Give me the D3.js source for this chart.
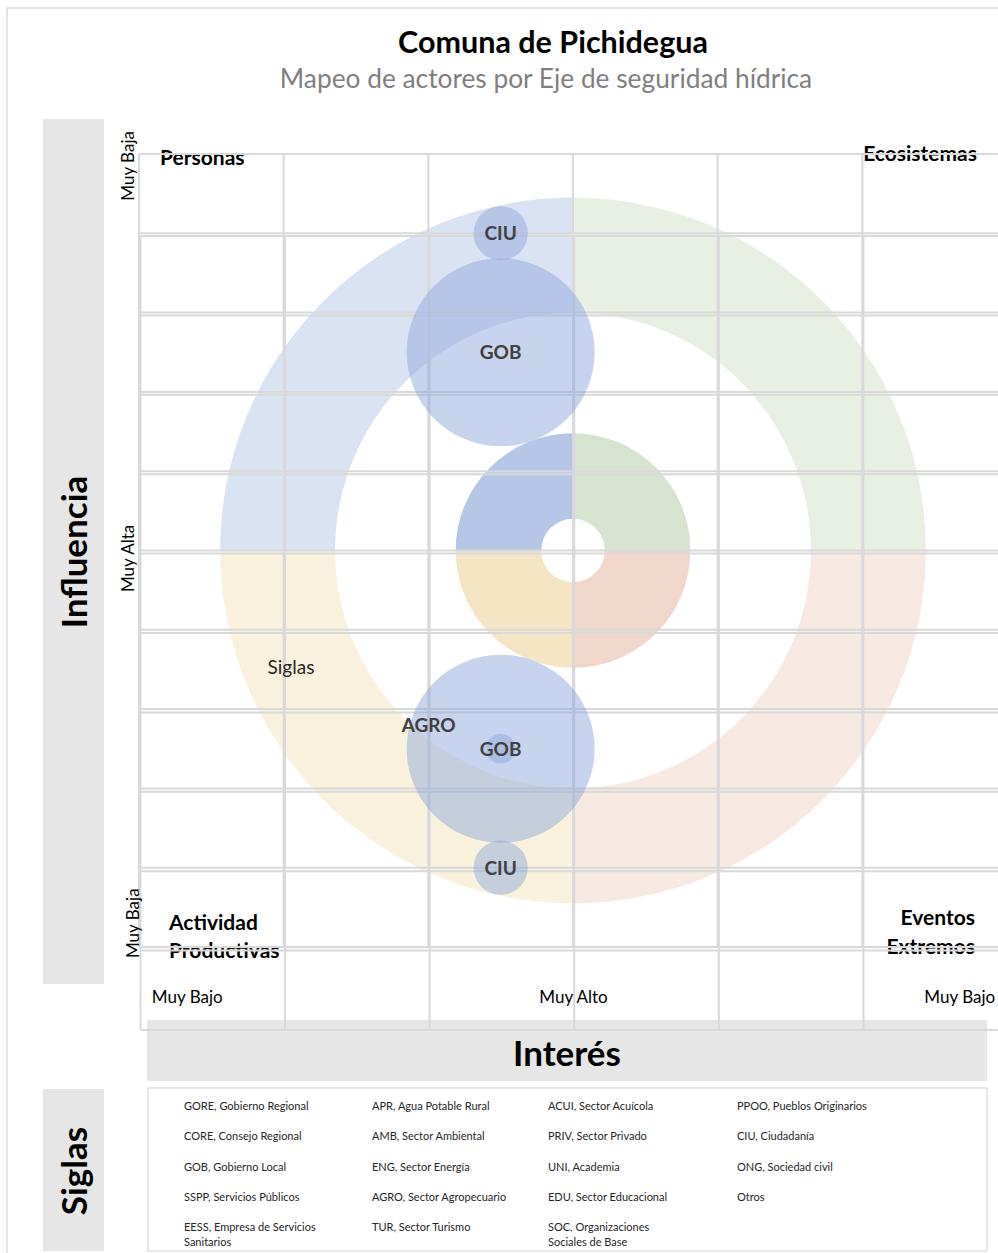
<!DOCTYPE html>
<meta charset="utf-8">
<style>
    body { margin: 0; background: #fff; }
    text { font-family: Lato, "Open Sans", sans-serif; }
    .grid line { stroke: #d9d9d9; stroke-width: 2; }
    .bar { fill: #e6e6e6; }
    .big { font-weight: bold; font-size: 35px; fill: #000; }
    .quad { font-weight: bold; font-size: 21px; fill: #000; }
    .sigla { font-weight: bold; font-size: 19px; fill: #404040; text-anchor: middle; }
    .legend text { font-size: 11px; fill: #262626; }
</style>
<body>

<script src="https://d3js.org/d3.v7.min.js"></script>
<script>
    // chart values
    var title = "Comuna de Pichidegua";
    var subtitle = "Mapeo de actores por Eje de seguridad hídrica";

    var quadrants = ["Ecosistemas", "Eventos Extremos", "Actividad Productivas", "Personas"];
    var outerColors = ["#e8f0e3", "#f8eae2", "#fbf2de", "#dae3f3"];
    var innerColors = ["#d6e3cf", "#f0d7c9", "#f5e5c5", "#b4c7e7"];

    // rings in grid units (inner, outer)
    var rings = [[3.0, 4.45], [0.4, 1.48]];
    var ringCenter = [3, 5];

    var xTickLabels = ["Muy Bajo", "Muy Alto", "Muy Bajo"];
    var xTickValues = [0.33, 3.0, 5.67];
    var yTickLabels = ["Muy Baja", "Muy Alta", "Muy Baja"];
    var yTickValues = [0.15, 5.1, 9.7];

    var actorSigla = ["CIU", "GOB", "GOB", "AGRO", "CIU"];
    var actorInteres = [2.5, 2.5, 2.5, 2.5, 2.5];
    var actorInfluencia = [1.0, 2.5, 7.5, 7.5, 9.0];
    var actorSize = [1, 12, 12, 0.3, 1];

    var legendCols = [
        ["GORE, Gobierno Regional", "CORE, Consejo Regional", "GOB, Gobierno Local", "SSPP, Servicios Públicos", "EESS, Empresa de Servicios\nSanitarios"],
        ["APR, Agua Potable Rural", "AMB, Sector Ambiental", "ENG, Sector Energía", "AGRO, Sector Agropecuario", "TUR, Sector Turismo"],
        ["ACUI, Sector Acuícola", "PRIV, Sector Privado", "UNI, Academia", "EDU, Sector Educacional", "SOC, Organizaciones\nSociales de Base"],
        ["PPOO, Pueblos Originarios", "CIU, Ciudadanía", "ONG, Sociedad civil", "Otros"]
    ];

    var W = 998, H = 1253;
    var svg = d3.select("body").append("svg")
        .attr("width", W)
        .attr("height", H);

    svg.append("rect")
        .attr("x", 7).attr("y", 8)
        .attr("width", W).attr("height", H)
        .attr("fill", "none").attr("stroke", "#c8c8c8");

    svg.append("text")
        .attr("x", 553).attr("y", 53)
        .attr("text-anchor", "middle")
        .style("font-weight", "bold").style("font-size", "30.5px")
        .text(title);
    svg.append("text")
        .attr("x", 546).attr("y", 88)
        .attr("text-anchor", "middle")
        .style("font-size", "26.3px").style("fill", "#7f7f7f")
        .text(subtitle);

    // gray side/bottom bands
    svg.append("rect").attr("class", "bar").attr("x", 43).attr("y", 119).attr("width", 61).attr("height", 865);
    svg.append("rect").attr("class", "bar").attr("x", 43).attr("y", 1089).attr("width", 61).attr("height", 162);
    svg.append("rect").attr("class", "bar").attr("x", 147).attr("y", 1020).attr("width", 840).attr("height", 61);

    svg.append("text").attr("class", "big")
        .attr("transform", "translate(87,552) rotate(-90)")
        .attr("text-anchor", "middle").text("Influencia");
    svg.append("text").attr("class", "big")
        .attr("transform", "translate(87,1171) rotate(-90)")
        .attr("text-anchor", "middle").text("Siglas");
    svg.append("text").attr("class", "big")
        .attr("x", 567).attr("y", 1066)
        .attr("text-anchor", "middle").text("Interés");

    // scales (grid units)
    var x = d3.scaleLinear().domain([0, 6]).range([139, 1007]);
    var y = d3.scaleLinear().domain([0, 10]).range([154, 947]);
    var x2 = d3.scaleLinear().domain([0, 6]).range([140.5, 1008]);
    var y2 = d3.scaleLinear().domain([0, 10]).range([236, 1030]);
    var r = d3.scaleSqrt().domain([0, 12]).range([0, 94]);
    var unit = y(1) - y(0);

    // rings
    var arc = d3.arc();
    var plot = svg.append("g")
        .attr("transform", "translate(" + x(ringCenter[0]) + "," + y(ringCenter[1]) + ")");
    rings.forEach(function(ring, ri) {
        var cols = ri === 0 ? outerColors : innerColors;
        quadrants.forEach(function(q, i) {
            plot.append("path")
                .attr("d", arc({
                    innerRadius: ring[0] * unit,
                    outerRadius: ring[1] * unit,
                    startAngle: i * Math.PI / 2,
                    endAngle: (i + 1) * Math.PI / 2
                }))
                .attr("fill", cols[i]);
        });
    });

    // quadrant names
    svg.append("text").attr("class", "quad").attr("x", 160).attr("y", 165).text("Personas");
    svg.append("text").attr("class", "quad").attr("x", 977).attr("y", 161).attr("text-anchor", "end").text("Ecosistemas");
    svg.append("text").attr("class", "quad").attr("x", 169).attr("y", 930).text("Actividad");
    svg.append("text").attr("class", "quad").attr("x", 169).attr("y", 958).text("Productivas");
    svg.append("text").attr("class", "quad").attr("x", 975).attr("y", 925).attr("text-anchor", "end").text("Eventos");
    svg.append("text").attr("class", "quad").attr("x", 975).attr("y", 954).attr("text-anchor", "end").text("Extremos");

    // two overlapping grids
    function drawGrid(xs, ys) {
        var g = svg.append("g").attr("class", "grid");
        g.selectAll(".v").data(d3.range(0, 7)).enter().append("line")
            .attr("x1", d => xs(d)).attr("x2", d => xs(d))
            .attr("y1", ys(0)).attr("y2", ys(10));
        g.selectAll(".h").data(d3.range(0, 11)).enter().append("line")
            .attr("x1", xs(0)).attr("x2", xs(6))
            .attr("y1", d => ys(d)).attr("y2", d => ys(d));
    }
    drawGrid(x, y);
    drawGrid(x2, y2);

    // bubbles
    var actors = actorSigla.map((s, i) => ({sigla: s, x: actorInteres[i], y: actorInfluencia[i], size: actorSize[i]}));
    svg.append("g").selectAll("circle").data(actors).enter().append("circle")
        .attr("cx", d => x(d.x))
        .attr("cy", d => y(d.y))
        .attr("r", d => r(d.size))
        .attr("fill", "#8faadc")
        .attr("fill-opacity", 0.5);

    var labelShift = {3: [-72, -24]};
    svg.append("g").selectAll("text").data(actors).enter().append("text")
        .attr("class", "sigla")
        .attr("x", (d, i) => x(d.x) + (labelShift[i] ? labelShift[i][0] : 0))
        .attr("y", (d, i) => y(d.y) + 7 + (labelShift[i] ? labelShift[i][1] : 0))
        .text(d => d.sigla);

    svg.append("text")
        .attr("x", 291).attr("y", 674)
        .attr("text-anchor", "middle")
        .style("font-size", "19px").style("fill", "#262626")
        .text("Siglas");

    // axis labels
    var xa = svg.append("g")
        .attr("transform", "translate(0,988)")
        .call(d3.axisBottom(x).tickValues(xTickValues).tickSize(0)
            .tickFormat((d, i) => xTickLabels[i]));
    xa.select(".domain").remove();
    xa.selectAll("text").style("font-size", "17px").style("fill", "#000")
        .style("font-family", "Lato, sans-serif");

    var ya = svg.append("g")
        .attr("transform", "translate(134,0)");
    ya.selectAll("text").data(yTickValues).enter().append("text")
        .attr("transform", (d, i) => "translate(" + (i === 2 ? 5 : 0) + "," + y(d) + ") rotate(-90)")
        .attr("text-anchor", "middle")
        .style("font-size", "17px")
        .text((d, i) => yTickLabels[i]);

    // legend
    svg.append("rect")
        .attr("x", 148).attr("y", 1088)
        .attr("width", 839).attr("height", 163)
        .attr("fill", "none").attr("stroke", "#d0d0d0");

    var colX = d3.scaleOrdinal().domain(d3.range(4)).range([184, 372, 548, 737]);
    var rowY = d3.scaleLinear().domain([0, 4]).range([1110, 1231]);
    var legend = svg.append("g").attr("class", "legend");
    legendCols.forEach(function(col, ci) {
        col.forEach(function(item, ri) {
            var t = legend.append("text")
                .attr("x", colX(ci))
                .attr("y", rowY(ri));
            item.split("\n").forEach(function(line, li) {
                t.append("tspan").attr("x", colX(ci)).attr("dy", li ? 15 : 0).text(line);
            });
        });
    });
</script>

</body>
</html>
